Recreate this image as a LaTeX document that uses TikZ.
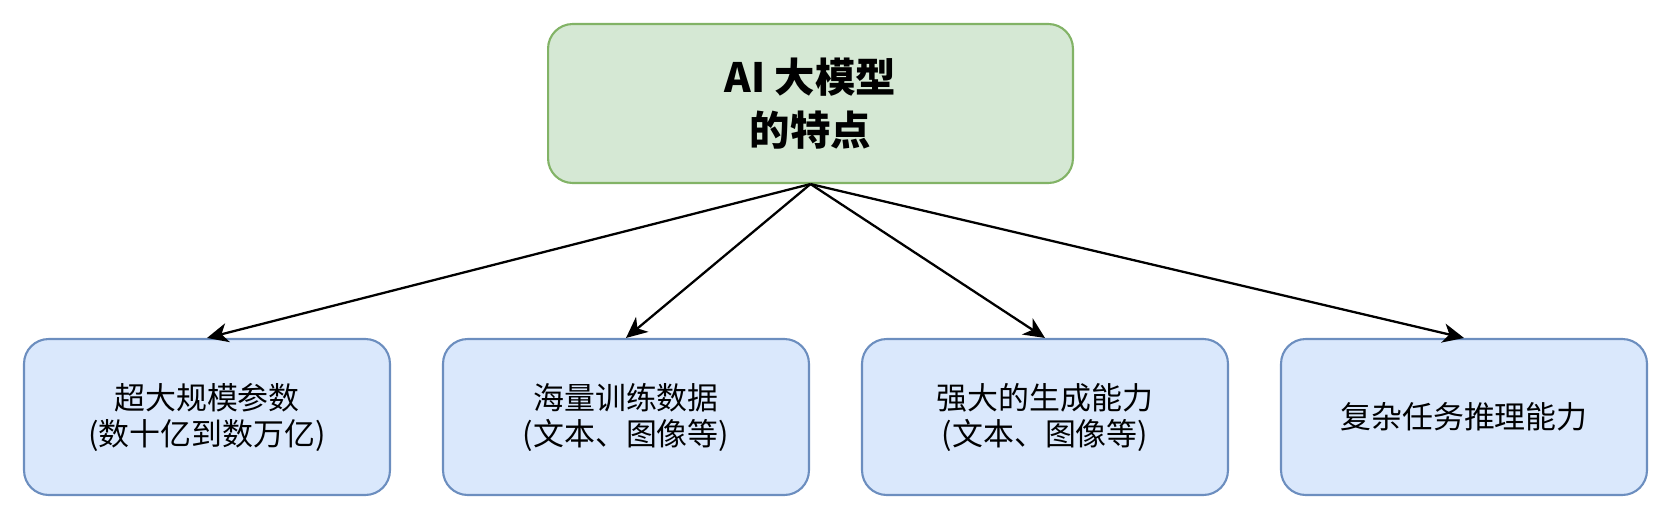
\documentclass[tikz,border=0pt]{standalone}
\usepackage{fontspec}
\usepackage{tikz}
\usetikzlibrary{calc,arrows.meta}
\newfontfamily\cjk{Noto Sans CJK SC}
\definecolor{featfill}{HTML}{D5E8D4}
\definecolor{featdraw}{HTML}{82B366}
\definecolor{itemfill}{HTML}{DAE8FC}
\definecolor{itemdraw}{HTML}{6C8EBF}
\tikzset{
    topbox/.style={draw=featdraw, fill=featfill, line width=1.2pt, rounded corners=14pt,
        minimum width=10.5cm, minimum height=3.18cm, inner sep=0pt, align=center,
        font=\cjk\bfseries\fontsize{23}{30}\selectfont},
    itembox/.style={draw=itemdraw, fill=itemfill, line width=1.2pt, rounded corners=14pt,
        minimum width=7.32cm, minimum height=3.12cm, inner sep=0pt, align=center,
        font=\cjk\fontsize{17.6}{20.5}\selectfont},
    arrow/.style={line width=1.3pt, -{Stealth[length=12pt,width=11pt,inset=3.5pt]}}
}
\begin{document}
\begin{tikzpicture}[x=0.02cm,y=0.02cm]
        \useasboundingbox (0,0) rectangle (1674,512);
        \node[topbox] (feat) at (810.5,408.5) {AI 大模型\\的特点};
        \coordinate (s) at (207,95);
        \foreach \i/\txt in {1/{超大规模参数\\(数十亿到数万亿)}, 2/{海量训练数据\\(文本、图像等)},
                3/{强大的生成能力\\(文本、图像等)}, 4/{复杂任务推理能力}}{
        \node[itembox] (b\i) at (s) {\txt};
        \coordinate (s) at ($(s) + (419,0)$);
        }
        \foreach \i in {1,...,4}{
        \draw[arrow] (feat.south) -- (b\i.north);
        }
    \end{tikzpicture}
\end{document}
